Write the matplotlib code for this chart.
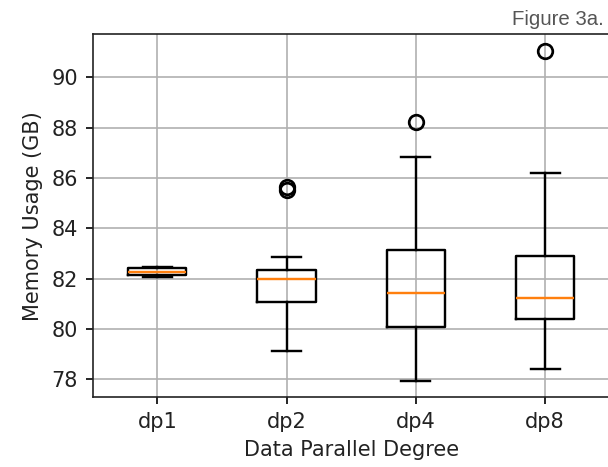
import matplotlib
matplotlib.use("Agg")
import matplotlib.pyplot as plt

categories = ["dp1", "dp2", "dp4", "dp8"]
q1 = [82.14, 81.06, 80.06, 80.40]
med = [82.28, 81.99, 81.44, 81.24]
q3 = [82.42, 82.35, 83.15, 82.92]
whislo = [82.08, 79.12, 77.94, 78.39]
whishi = [82.48, 82.88, 86.82, 86.21]
fliers = [[], [85.54, 85.66], [88.23], [91.06]]

stats = []
for i, c in enumerate(categories):
    stats.append(dict(label=c, q1=q1[i], med=med[i], q3=q3[i],
                      whislo=whislo[i], whishi=whishi[i], fliers=fliers[i]))

fig = plt.figure(figsize=(608 / 150, 467 / 150), dpi=150)
ax = fig.add_axes([92.7 / 608, 69.7 / 467, 517 / 608, 363 / 467])
lw = 1.15
ax.bxp(stats,
       boxprops=dict(linewidth=lw),
       whiskerprops=dict(linewidth=lw),
       capprops=dict(linewidth=lw),
       medianprops=dict(linewidth=lw, color="#ff7f0e"),
       flierprops=dict(marker="o", markersize=7, markeredgewidth=1.3,
                       markerfacecolor="none", markeredgecolor="black"))
ax.grid(True)
for s in ax.spines.values():
    s.set_color("#222222")
ax.set_xlabel("Data Parallel Degree", color="#222222")
ax.set_ylabel("Memory Usage (GB)", color="#222222")
ax.tick_params(labelcolor="#222222")

fig.text(604 / 608, 1 - 25 / 467, "Figure 3a.", ha="right", va="baseline",
         fontsize=9.8, color="#555555", family="Liberation Sans")

fig.savefig("out.png", dpi=150)
